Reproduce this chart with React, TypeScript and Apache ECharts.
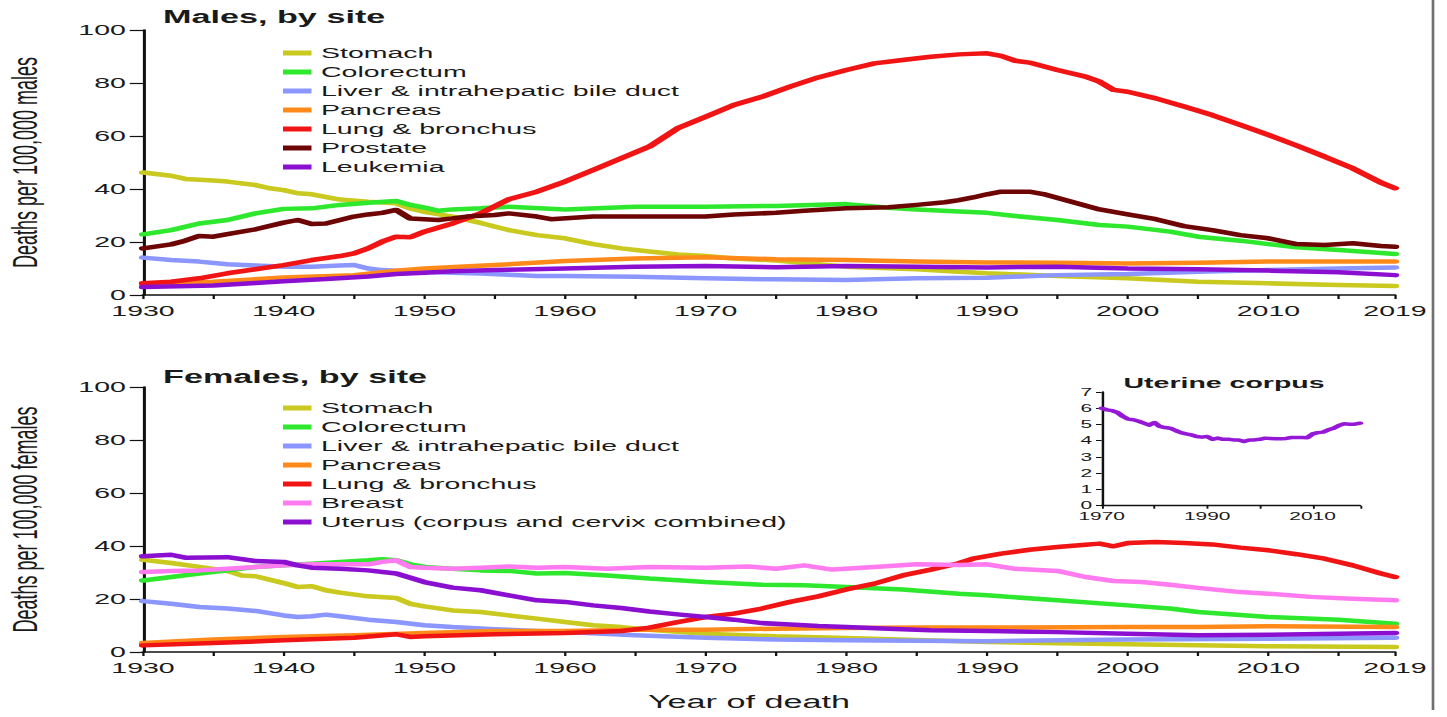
import React, { useEffect, useRef } from 'react';
import * as echarts from 'echarts';

// The reference picture is horizontally stretched; the chart is drawn narrower and stretched by CSS.
const S = 1.9;
const W = 1447 / S;
const H = 717;
const FONT = '"Liberation Sans", Arial, Helvetica, sans-serif';
const INK = '#1a1a1a';

// ---------- Data (deaths per 100,000) ----------
const maleNames = ['Stomach', 'Colorectum', 'Liver & intrahepatic bile duct', 'Pancreas', 'Lung & bronchus', 'Prostate', 'Leukemia'];
const femaleNames = ['Stomach', 'Colorectum', 'Liver & intrahepatic bile duct', 'Pancreas', 'Lung & bronchus', 'Breast', 'Uterus (corpus and cervix combined)'];
const maleColors = ['#c9c91f', '#2ee82e', '#8c96ff', '#ff8a1a', '#f01414', '#6e0505', '#8a0fd0'];
const femaleColors = ['#c9c91f', '#2ee82e', '#8c96ff', '#ff8a1a', '#f01414', '#ff7bef', '#8a0fd0'];

const maleStomach = [[1930,46.2],[1932,45],[1933,43.8],[1935,43.2],[1936,42.8],[1938,41.5],[1939,40.3],[1940,39.6],[1941,38.4],[1942,38],[1944,36],[1946,35.2],[1948,34.6],[1949,32.7],[1950,31.4],[1952,29.6],[1954,27.2],[1956,24.5],[1958,22.6],[1960,21.4],[1962,19.2],[1964,17.6],[1966,16.4],[1968,15.3],[1970,14.7],[1972,13.8],[1975,13],[1980,10.7],[1985,9.7],[1988,8.8],[1990,8.2],[1995,7.2],[2000,6.3],[2005,5],[2010,4.4],[2015,3.8],[2019,3.4]];
const maleColorectum = [[1930,22.9],[1932,24.5],[1934,27],[1936,28.3],[1938,30.8],[1940,32.5],[1942,32.7],[1944,34],[1946,34.8],[1948,35.5],[1949,34],[1950,33],[1951,31.8],[1952,32.3],[1954,32.7],[1956,33.3],[1960,32.3],[1965,33.3],[1970,33.3],[1975,33.6],[1980,34.3],[1983,32.9],[1985,32.3],[1988,31.5],[1990,31],[1992,29.8],[1995,28.3],[1998,26.4],[2000,25.8],[2003,23.9],[2005,22],[2008,20.5],[2010,19.2],[2012,18],[2015,17],[2019,15.5]];
const maleLiver = [[1930,14.1],[1932,13.2],[1934,12.6],[1936,11.6],[1938,11.1],[1940,10.7],[1942,10.7],[1944,11.1],[1945,11.3],[1946,10],[1947,9.4],[1948,9.2],[1950,8.8],[1952,8.4],[1954,8.1],[1956,7.6],[1958,7.2],[1960,7.2],[1965,6.9],[1970,6.3],[1975,5.9],[1980,5.7],[1985,6.3],[1990,6.5],[1995,7.5],[2000,7.9],[2005,8.8],[2010,9.4],[2015,10],[2019,10.4]];
const malePancreas = [[1930,4],[1935,5],[1940,6.6],[1945,7.5],[1948,9.2],[1950,10],[1955,11.3],[1960,12.8],[1965,13.8],[1970,14.2],[1975,13.5],[1980,13.2],[1985,12.6],[1990,12.3],[1995,12.2],[2000,11.9],[2005,12.2],[2010,12.6],[2015,12.6],[2019,12.6]];
const maleLung = [[1930,4.4],[1932,5],[1934,6.3],[1936,8.2],[1938,9.7],[1940,11.3],[1942,13.2],[1944,14.7],[1945,15.7],[1946,17.6],[1947,20.1],[1948,22],[1949,21.8],[1950,23.9],[1952,27],[1954,30.8],[1956,36.1],[1958,39],[1960,42.8],[1962,47.2],[1964,51.6],[1966,56],[1968,62.9],[1970,67.3],[1972,71.7],[1974,74.8],[1976,78.6],[1978,82.1],[1980,84.9],[1982,87.4],[1984,88.7],[1986,89.9],[1988,90.8],[1990,91.2],[1991,90.2],[1992,88.4],[1993,87.7],[1995,84.9],[1997,82.4],[1998,80.5],[1999,77.4],[2000,76.7],[2002,74.2],[2004,71.1],[2006,67.9],[2008,64.2],[2010,60.4],[2012,56.4],[2014,52.2],[2016,47.8],[2018,42.4],[2019,40.3]];
const maleProstate = [[1930,17.6],[1932,19.1],[1933,20.5],[1934,22.3],[1935,22],[1936,23],[1938,24.8],[1940,27.3],[1941,28.3],[1942,26.8],[1943,27],[1944,28.3],[1945,29.6],[1946,30.4],[1947,31],[1948,32.1],[1949,28.9],[1950,28.6],[1951,28.3],[1952,28.9],[1953,29.6],[1955,30.2],[1956,30.8],[1958,29.6],[1959,28.6],[1962,29.6],[1965,29.6],[1968,29.6],[1970,29.6],[1972,30.4],[1975,31],[1977,31.8],[1980,32.7],[1983,33.1],[1985,34],[1987,35],[1988,35.8],[1989,36.8],[1990,38],[1991,39],[1993,39],[1994,38.1],[1996,35.2],[1998,32.3],[2000,30.4],[2002,28.6],[2004,26],[2006,24.5],[2008,22.6],[2010,21.4],[2012,19.2],[2014,18.9],[2016,19.5],[2018,18.5],[2019,18.2]];
const maleLeukemia = [[1930,3],[1935,3.6],[1938,4.5],[1940,5.2],[1943,6],[1946,7],[1948,7.9],[1950,8.4],[1952,9],[1955,9.4],[1960,10],[1965,10.7],[1970,10.9],[1975,10.5],[1980,10.9],[1985,10.7],[1990,10.4],[1995,10.7],[2000,10],[2005,9.7],[2010,9.2],[2015,8.6],[2019,7.5]];

const femaleStomach = [[1930,34.8],[1932,33.6],[1934,32.1],[1936,30.6],[1937,28.9],[1938,28.6],[1940,26],[1941,24.5],[1942,24.8],[1943,23.3],[1944,22.4],[1946,21],[1948,20.4],[1949,18.2],[1950,17.2],[1952,15.7],[1954,15.1],[1956,13.8],[1958,12.6],[1960,11.3],[1962,10.1],[1964,9.4],[1966,8.4],[1970,6.9],[1975,5.9],[1980,5.3],[1985,4.5],[1990,3.8],[1995,3.3],[2000,2.9],[2010,2.2],[2019,1.9]];
const femaleColorectum = [[1930,27],[1932,28.3],[1934,29.6],[1936,30.8],[1938,32.1],[1940,32.7],[1942,33.3],[1944,34],[1946,34.6],[1947,35],[1948,34.6],[1949,33.1],[1950,32.1],[1952,31.4],[1954,30.8],[1956,30.6],[1958,29.6],[1960,29.8],[1963,28.9],[1966,27.7],[1970,26.4],[1974,25.4],[1977,25.2],[1980,24.5],[1984,23.6],[1988,22],[1990,21.4],[1995,19.5],[2000,17.6],[2003,16.4],[2005,15.1],[2010,13.2],[2015,12.2],[2019,10.7]];
const femaleLiver = [[1930,19.2],[1932,18.2],[1934,17],[1936,16.4],[1938,15.5],[1940,13.8],[1941,13.2],[1942,13.5],[1943,14.1],[1944,13.5],[1946,12.2],[1948,11.3],[1950,10.1],[1952,9.4],[1955,8.6],[1960,7.5],[1965,6.3],[1970,5.4],[1975,4.7],[1980,4.4],[1985,4.2],[1990,4.1],[2000,4.7],[2010,5],[2019,5.4]];
const femalePancreas = [[1930,3.4],[1935,4.7],[1940,5.7],[1945,6.3],[1950,7.2],[1955,7.9],[1960,7.9],[1965,8.4],[1970,8.4],[1975,8.8],[1980,9.1],[1985,9.2],[1990,9.2],[2000,9.4],[2005,9.4],[2010,9.7],[2019,9.4]];
const femaleLung = [[1930,2.5],[1935,3.4],[1940,4.4],[1945,5.4],[1948,6.7],[1949,5.7],[1950,5.9],[1955,6.7],[1960,7.2],[1964,7.9],[1966,9.2],[1968,11.3],[1970,13.2],[1972,14.5],[1974,16.4],[1976,18.9],[1978,21],[1980,23.6],[1982,25.8],[1984,28.9],[1986,31.1],[1988,33.5],[1989,35.2],[1991,37.1],[1993,38.6],[1995,39.6],[1997,40.5],[1998,40.9],[1999,39.9],[2000,41.1],[2002,41.5],[2004,41.1],[2006,40.6],[2008,39.4],[2010,38.4],[2012,36.9],[2014,35.2],[2016,32.7],[2018,29.6],[2019,28.3]];
const femaleBreast = [[1930,30.2],[1932,30.6],[1934,30.8],[1936,31.4],[1938,32.1],[1940,32.7],[1942,33.1],[1944,33.1],[1946,33.1],[1947,34],[1948,34.6],[1949,32.1],[1950,31.8],[1952,31.4],[1954,31.8],[1956,32.3],[1958,31.8],[1960,32.1],[1963,31.4],[1966,32.1],[1970,31.8],[1973,32.3],[1975,31.4],[1977,32.7],[1979,31.1],[1982,32.1],[1985,33.1],[1988,32.8],[1990,33.1],[1992,31.4],[1995,30.6],[1997,28.3],[1999,26.8],[2001,26.4],[2003,25.4],[2005,24.2],[2008,22.6],[2010,22],[2013,20.8],[2016,20.1],[2019,19.5]];
const femaleUterus = [[1930,36.1],[1932,36.7],[1933,35.6],[1936,35.8],[1938,34.3],[1940,34],[1941,32.7],[1942,31.8],[1944,31.4],[1946,30.8],[1948,29.6],[1950,26.4],[1952,24.3],[1954,23.3],[1956,21.4],[1958,19.5],[1960,18.9],[1962,17.6],[1964,16.6],[1966,15.3],[1968,14.2],[1970,13.2],[1972,12.2],[1974,10.9],[1976,10.4],[1978,9.8],[1980,9.4],[1983,8.8],[1986,8.2],[1990,7.9],[1995,7.5],[2000,6.9],[2005,6.3],[2010,6.5],[2015,6.9],[2019,7.2]];

// Inset: uterine corpus, 1970-2019
const insetYears = [1970,1971,1972,1973,1974,1975,1976,1977,1978,1979,1980,1981,1982,1983,1984,1985,1986,1987,1988,1989,1990,1991,1992,1993,1994,1995,1996,1997,1998,1999,2000,2001,2002,2003,2004,2005,2006,2007,2008,2009,2010,2011,2012,2013,2014,2015,2016,2017,2018,2019];
const uterineCorpus = [6.0,5.9,5.85,5.74,5.5,5.33,5.29,5.2,5.08,4.96,5.12,4.88,4.81,4.77,4.63,4.5,4.42,4.36,4.26,4.22,4.26,4.09,4.16,4.09,4.09,4.05,4.05,3.95,4.05,4.05,4.09,4.16,4.14,4.12,4.12,4.14,4.2,4.2,4.2,4.18,4.42,4.5,4.53,4.67,4.77,4.94,5.04,5.02,5.02,5.08];

const maleData = [maleStomach, maleColorectum, maleLiver, malePancreas, maleLung, maleProstate, maleLeukemia];
const femaleData = [femaleStomach, femaleColorectum, femaleLiver, femalePancreas, femaleLung, femaleBreast, femaleUterus];

const mainX = (gridIndex: number) => ({
  type: 'value', gridIndex, min: 1930, max: 2019, interval: 5,
  axisLine: { show: true, onZero: false, lineStyle: { color: '#111', width: 1.6 } },
  axisTick: { show: true, inside: false, length: 4, lineStyle: { color: '#111', width: 1.2 } },
  axisLabel: {
    show: true, fontSize: 15, color: INK, fontFamily: FONT, margin: 8,
    showMinLabel: true, showMaxLabel: true,
    formatter: (v: number) => (v % 10 === 0 || v === 2019 ? String(v) : ''),
  },
  splitLine: { show: false },
});

const mainY = (gridIndex: number, name: string) => ({
  type: 'value', gridIndex, min: 0, max: 100, interval: 20,
  name, nameLocation: 'middle', nameGap: 53, nameRotate: 90,
  nameTextStyle: { fontSize: 18, color: INK, fontFamily: FONT },
  axisLine: { show: true, onZero: false, lineStyle: { color: '#111', width: 1.6 } },
  axisTick: { show: true, inside: false, length: 7, lineStyle: { color: '#111', width: 1.2 } },
  axisLabel: { show: true, fontSize: 15, color: INK, fontFamily: FONT, margin: 9 },
  splitLine: { show: false },
});

const mkLine = (name: string, data: number[][], color: string, idx: number, width = 4.5) => ({
  type: 'line', name, data, xAxisIndex: idx, yAxisIndex: idx,
  symbol: 'none', showSymbol: false, color,
  lineStyle: { color, width, cap: 'round', join: 'round' },
  emphasis: { disabled: true }, silent: true,
});

const legendBase = {
  orient: 'vertical', left: 283 / S, itemWidth: 15, itemHeight: 5, itemGap: 0, padding: 0,
  icon: 'rect', selectedMode: false,
  textStyle: { fontSize: 15, color: INK, fontFamily: FONT, lineHeight: 19 },
};

const gridBase = { containLabel: false, outerBoundsMode: 'none' };

export default function App() {
  const ref = useRef<HTMLDivElement>(null);
  useEffect(() => {
    if (!ref.current) return;
    document.body.style.overflow = 'hidden';
    const chart = echarts.init(ref.current, undefined, { renderer: 'svg', width: W, height: H });
    const series: any[] = [];
    maleNames.forEach((n, i) => series.push(mkLine(n, maleData[i], maleColors[i], 0)));
    femaleNames.forEach((n, i) => series.push(mkLine(n, femaleData[i], femaleColors[i], 1)));
    series.push({
      ...mkLine('Uterine corpus', insetYears.map((y, i) => [y, uterineCorpus[i]]), '#9418d6', 2, 3.5),
    });
    chart.setOption({
      animation: false,
      backgroundColor: '#ffffff',
      tooltip: { show: false },
      grid: [
        { ...gridBase, left: 143 / S, width: (1395 - 143) / S, top: 30, height: 265 },
        { ...gridBase, left: 143 / S, width: (1395 - 143) / S, top: 387, height: 265 },
        { ...gridBase, left: 1101.7 / S, width: (1360 - 1101.7) / S, top: 392, height: 113.7 },
      ],
      xAxis: [
        mainX(0),
        mainX(1),
        {
          type: 'value', gridIndex: 2, min: 1970, max: 2019, interval: 10,
          axisLine: { show: true, onZero: false, lineStyle: { color: '#111', width: 1.3 } },
          axisTick: { show: true, length: 3, lineStyle: { color: '#111', width: 1 } },
          axisLabel: {
            show: true, fontSize: 11, color: INK, fontFamily: FONT, margin: 5,
            formatter: (v: number) => (v === 1970 || v === 1990 || v === 2010 ? String(v) : ''),
          },
          splitLine: { show: false },
        },
      ],
      yAxis: [
        mainY(0, 'Deaths per 100,000 males'),
        mainY(1, 'Deaths per 100,000 females'),
        {
          type: 'value', gridIndex: 2, min: 0, max: 7, interval: 1,
          axisLine: { show: true, onZero: false, lineStyle: { color: '#111', width: 1.3 } },
          axisTick: { show: true, length: 3, lineStyle: { color: '#111', width: 1 } },
          axisLabel: { show: true, fontSize: 11, color: INK, fontFamily: FONT, margin: 5 },
          splitLine: { show: false },
        },
      ],
      legend: [
        { ...legendBase, top: 43.5, data: maleNames.map((n, i) => ({ name: n, itemStyle: { color: maleColors[i] } })) },
        { ...legendBase, top: 398.5, data: femaleNames.map((n, i) => ({ name: n, itemStyle: { color: femaleColors[i] } })) },
      ],
      graphic: [
        { type: 'text', x: 163 / S, y: 16.5, style: { text: 'Males, by site', font: `bold 18px ${FONT}`, fill: INK, verticalAlign: 'middle', align: 'left' } },
        { type: 'text', x: 163 / S, y: 376.5, style: { text: 'Females, by site', font: `bold 18px ${FONT}`, fill: INK, verticalAlign: 'middle', align: 'left' } },
        { type: 'text', x: 1224 / S, y: 383, style: { text: 'Uterine corpus', font: `bold 15px ${FONT}`, fill: INK, verticalAlign: 'middle', align: 'center' } },
        { type: 'text', x: 749 / S, y: 702, style: { text: 'Year of death', font: `18px ${FONT}`, fill: INK, verticalAlign: 'middle', align: 'center' } },
        { type: 'line', shape: { x1: 1433 / S, y1: 0, x2: 1433 / S, y2: 710 }, style: { stroke: '#707070', lineWidth: 1.4 } },
      ],
      series,
    });
    return () => chart.dispose();
  }, []);
  return (
    <div
      ref={ref}
      style={{
        position: 'absolute', left: 0, top: 0, width: W, height: H,
        transform: `scaleX(${S})`, transformOrigin: '0 0', background: '#fff',
      }}
    />
  );
}
